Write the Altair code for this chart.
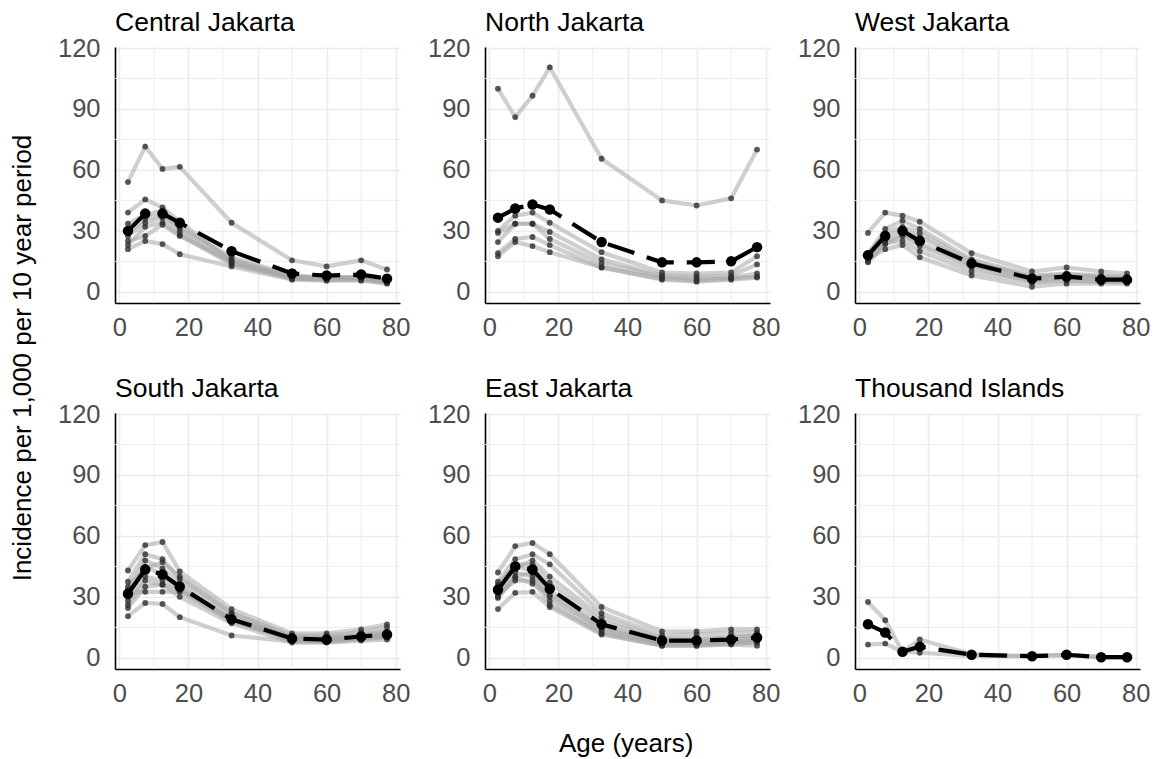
import altair as alt
import pandas as pd

FONT = "Liberation Sans"
GRID = "#ebebeb"

AGES = [2.5, 7.5, 12.5, 17.5, 32.5, 50, 60, 70, 77.5]
DISTRICTS = ["Central Jakarta", "North Jakarta", "West Jakarta",
             "South Jakarta", "East Jakarta", "Thousand Islands"]

central_mean = [30, 38.5, 38.5, 34, 20, 9, 8, 8.5, 6.5]
central_subs = [
    [54, 71.5, 60.5, 61.5, 34, 15.5, 12.5, 15.5, 11],
    [39, 45.5, 41.5, 34.5, 15, 7.5, 7, 7, 5.5],
    [21, 25, 23.5, 18.5, 12.5, 6, 5.5, 5.5, 4],
    [33.5, 38, 40, 32, 17, 8, 7, 7.5, 5.5],
    [27.5, 34, 36.5, 29.5, 14, 7, 6.5, 6.5, 5],
    [23, 32, 34, 28, 13.5, 6.5, 6, 6, 4.5],
    [29, 36, 38, 31, 16, 7.5, 7, 7, 5],
    [25, 27.5, 33, 27.5, 15, 6.5, 6, 6.5, 4.5],
]

north_mean = [36.5, 41, 43, 40.5, 24.5, 14.5, 14.5, 15, 22]
north_subs = [
    [100, 86, 96.5, 110.5, 65.5, 45, 42.5, 46, 70],
    [30, 37.5, 39, 34, 19.5, 9.5, 9, 9.5, 17.5],
    [29, 33.5, 33.5, 29.5, 16, 8, 7.5, 8, 13.5],
    [24.5, 33.5, 33.5, 26, 14, 7.5, 6.5, 7, 9],
    [19, 26, 27, 23, 12, 6.5, 5.5, 6.5, 7.5],
    [17.5, 24.5, 22.5, 19.5, 12, 6, 5, 6, 7],
]

west_mean = [18, 27.5, 30, 25, 14, 6.5, 7.5, 6, 6]
west_subs = [
    [29, 39, 37.5, 34.5, 19, 10, 12, 10, 9],
    [18, 31, 35, 31, 16, 8, 9, 8, 7.5],
    [17, 27, 30, 27, 14, 7, 8, 7, 6.5],
    [15, 25, 28, 24, 13, 6, 7, 6, 6],
    [14.5, 23.5, 27.5, 22.5, 12, 5, 6, 5, 5],
    [16, 21, 23, 17, 8, 2.5, 4, 4, 4],
    [19, 29, 32, 29, 15, 7.5, 8.5, 7.5, 7],
    [17, 24, 25, 20, 10, 4.5, 5.5, 5, 5],
]

south_mean = [31.5, 43.5, 41, 35, 19, 9.5, 9, 10.5, 11.5]
south_subs = [
    [43, 55.5, 57, 42.5, 24, 12, 12, 14, 16.5],
    [37.5, 51, 48.5, 39, 22, 11, 11, 12.5, 15],
    [33.5, 48, 44, 37, 20, 10, 10, 11.5, 13],
    [30, 45, 41, 35, 19, 9.5, 9, 10.5, 12],
    [24.5, 35, 36, 33, 18.5, 9, 8.5, 10, 11],
    [20.5, 27, 26.5, 20, 11, 8, 8, 9, 10],
    [32, 32.5, 32.5, 32.5, 18, 8.5, 8, 9.5, 10.5],
    [28, 40, 38, 34, 19, 9, 9, 10, 11],
    [35, 44, 47, 40, 22, 10, 10, 11, 12.5],
    [26, 38, 36, 30, 17, 7.5, 7.5, 8.5, 9],
]

east_mean = [33.5, 45, 43.5, 34, 16.5, 8.5, 8.5, 9, 10]
east_subs = [
    [42, 55, 56.5, 51, 25, 13, 13, 14, 14],
    [37.5, 48.5, 51, 46, 22, 11, 11.5, 12, 12.5],
    [29.5, 39.5, 36.5, 31, 15, 7, 7, 8, 8.5],
    [24, 32, 32.5, 25, 11.5, 6, 6, 6.5, 6],
    [36, 46, 46, 37, 18, 9, 9, 10, 11],
    [32, 42, 40, 30, 14, 7.5, 7.5, 8, 9],
    [34, 44, 48, 40, 20, 9.5, 9.5, 10, 11],
    [30, 40, 42, 28, 13, 6.5, 6.5, 7, 8],
    [35, 45, 43, 33, 16, 8, 8, 8.5, 10],
    [31, 38, 38, 26, 12, 6, 6, 7, 7.5],
]

islands_mean = [16.5, 12.5, 3, 5.5, 1.5, 0.8, 1.5, 0.3, 0.3]
islands_subs = [
    [27.5, 18.5, 3, 9, 1.8, 0.8, 1.5, 0.3, 0.3],
    [6.5, 7, 3, 2.5, 1, 0.8, 1.5, 0.3, 0.3],
]

X_TICKS = [0, 20, 40, 60, 80]
X_MINOR = [10, 30, 50, 70]
Y_TICKS = [0, 30, 60, 90, 120]
Y_MINOR = [15, 45, 75, 105]

MEANS = [central_mean, north_mean, west_mean, south_mean, east_mean, islands_mean]
SUBS = [central_subs, north_subs, west_subs, south_subs, east_subs, islands_subs]

rows = []
for name, mean, subs in zip(DISTRICTS, MEANS, SUBS):
    for i, s in enumerate(subs):
        for a, v in zip(AGES, s):
            rows.append({"district": name, "sub": f"{name}-{i}", "kind": "sub", "age": a, "inc": v})
    for a, v in zip(AGES, mean):
        rows.append({"district": name, "sub": f"{name}-mean", "kind": "mean", "age": a, "inc": v})
df = pd.DataFrame(rows)
minor_x = pd.DataFrame({"v": X_MINOR})
minor_y = pd.DataFrame({"v": Y_MINOR})

xs = alt.Scale(domain=[-1.25, 81.25], nice=False, zero=False)
ys = alt.Scale(domain=[-5.5, 120.5], nice=False, zero=False)
xax = alt.Axis(values=X_TICKS, title=None, grid=True, labelFlush=False)
yax = alt.Axis(values=Y_TICKS, title=None, grid=True)


def panel(name):
    base = alt.Chart(df).transform_filter(alt.datum.district == name)
    X = alt.X("age:Q", scale=xs, axis=xax)
    Y = alt.Y("inc:Q", scale=ys, axis=yax)
    gx = alt.Chart(minor_x).mark_rule(color=GRID, strokeWidth=0.9).encode(
        x=alt.X("v:Q", scale=xs, axis=xax))
    gy = alt.Chart(minor_y).mark_rule(color=GRID, strokeWidth=0.9).encode(
        y=alt.Y("v:Q", scale=ys, axis=yax))
    sub_lines = base.transform_filter(alt.datum.kind == "sub").mark_line(
        color="#a8a8a8", strokeWidth=4.2, opacity=0.55).encode(x=X, y=Y, detail="sub:N")
    sub_pts = base.transform_filter(alt.datum.kind == "sub").mark_circle(
        color="#303030", size=34, opacity=0.8).encode(x=X, y=Y)
    mean_line = base.transform_filter(alt.datum.kind == "mean").mark_line(
        color="black", strokeWidth=4.2, strokeDash=[28, 13]).encode(x=X, y=Y)
    mean_pts = base.transform_filter(alt.datum.kind == "mean").mark_circle(
        color="black", size=110, opacity=1).encode(x=X, y=Y)
    return alt.layer(gx, gy, sub_lines, sub_pts, mean_line, mean_pts).properties(
        width=285, height=256,
        title=alt.TitleParams(name, anchor="start", frame="group", fontSize=26.5,
                              font=FONT, fontWeight="normal", color="black", offset=0),
    )


row1 = alt.hconcat(*[panel(n) for n in DISTRICTS[:3]], spacing=17)
row2 = alt.hconcat(*[panel(n) for n in DISTRICTS[3:]], spacing=17)
grid = alt.vconcat(row1, row2, spacing=34,
                   title=alt.TitleParams("Incidence per 1,000 per 10 year period", orient="left",
                                         anchor="middle", fontSize=26, font=FONT,
                                         fontWeight="normal", color="black", offset=21))
chart = alt.vconcat(grid, title=alt.TitleParams("Age (years)", orient="bottom", anchor="middle",
                                                fontSize=26, font=FONT, fontWeight="normal",
                                                color="black", offset=24, dx=46)).configure_view(
    stroke=None
).configure_axis(
    domainColor="black", domainWidth=1.6, ticks=False, tickSize=0,
    labelFont=FONT, labelFontSize=25.5, labelColor="#4d4d4d",
    gridColor=GRID, gridWidth=1.6,
).configure_axisX(labelPadding=12).configure_axisY(labelPadding=15).properties(
    background="white", padding={"left": 2, "top": 1, "right": 2, "bottom": 0})

chart.save("out.html", embed_options={"renderer": "svg", "actions": False})
